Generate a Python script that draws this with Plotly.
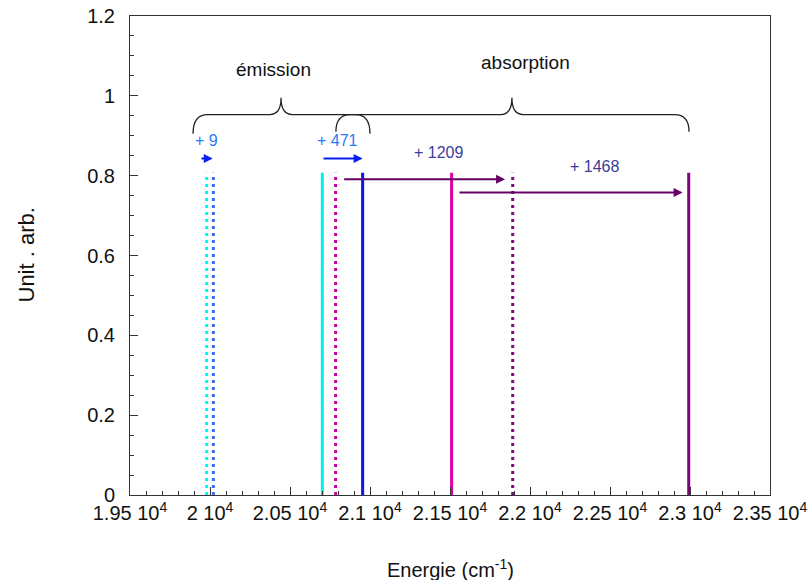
import plotly.graph_objects as go

# ---- data ----
line_x = [19979, 20021, 20702, 20785, 20954, 21510, 21892, 22992]
line_top = [0.807, 0.807, 0.807, 0.807, 0.807, 0.807, 0.807, 0.807]
line_names = ["em1", "em1'", "em2", "abs1'", "em2'", "abs1", "abs2'", "abs2"]

arrow_start = [19937, 20700, 20829, 21550]
arrow_end = [20017, 20954, 21844, 22954]
arrow_y = [0.843, 0.843, 0.791, 0.758]

shift_text = ["+ 9", "+ 471", "+ 1209", "+ 1468"]
shift_x = [19981, 20794, 21425, 22406]
shift_y = [0.889, 0.889, 0.857, 0.824]

brace_names = ["émission", "absorption"]
brace_left = [19894, 20787]
brace_right = [21000, 22994]
brace_tip = [20444, 21887]
brace_end_y = [0.905, 0.91]
brace_mid_y = [0.953, 0.953]
brace_tip_y = [0.995, 0.995]
brace_label_x = [20394, 21969]
brace_label_y = [1.067, 1.083]

x_tickvals = [19500, 20000, 20500, 21000, 21500, 22000, 22500, 23000, 23500]
x_ticktext = ["1.95 10<sup>4</sup>", "2 10<sup>4</sup>", "2.05 10<sup>4</sup>",
              "2.1 10<sup>4</sup>", "2.15 10<sup>4</sup>", "2.2 10<sup>4</sup>",
              "2.25 10<sup>4</sup>", "2.3 10<sup>4</sup>", "2.35 10<sup>4</sup>"]
y_tickvals = [0, 0.2, 0.4, 0.6, 0.8, 1.0, 1.2]
y_ticktext = ["0", "0.2", "0.4", "0.6", "0.8", "1", "1.2"]

# ---- styles ----
line_colors = ["#00f4f4", "#3a6cf4", "#00f0f0", "#cc0099", "#0a14f5", "#dd00aa", "#7a0a7a", "#800080"]
line_dash = ["3px,4px", "3px,4px", "solid", "3px,4px", "solid", "solid", "3px,4px", "solid"]
arrow_colors = ["#0a1ef0", "#0a1ef0", "#660066", "#660066"]
text_colors = ["#2a7cf5", "#2a7cf5", "#3d3d99", "#3d3d99"]
FONT = "Liberation Sans, Arial, sans-serif"

fig = go.Figure()
for x, top, c, d, n in zip(line_x, line_top, line_colors, line_dash, line_names):
    fig.add_trace(go.Scatter(x=[x, x], y=[0, top], mode="lines", name=n,
                             line=dict(color=c, width=3, dash=d), showlegend=False))

annotations = []
for xs, xe, y, c in zip(arrow_start, arrow_end, arrow_y, arrow_colors):
    annotations.append(dict(x=xe, y=y, ax=xs, ay=y, xref="x", yref="y", axref="x", ayref="y",
                            text="", showarrow=True, arrowhead=2, arrowsize=0.9,
                            arrowwidth=2, arrowcolor=c, standoff=0, startstandoff=0))
for t, x, y, c in zip(shift_text, shift_x, shift_y, text_colors):
    annotations.append(dict(x=x, y=y, xref="x", yref="y", text=t, showarrow=False,
                            font=dict(family=FONT, size=16, color=c)))
for t, x, y in zip(brace_names, brace_label_x, brace_label_y):
    annotations.append(dict(x=x, y=y, xref="x", yref="y", text=t, showarrow=False,
                            font=dict(family=FONT, size=19, color="#111")))

shapes = []
we, wt = 90, 70
for x0, x1, xt, ye, ym, yt in zip(brace_left, brace_right, brace_tip, brace_end_y, brace_mid_y, brace_tip_y):
    path = (f"M {x0},{ye} Q {x0},{ym} {x0+we},{ym} L {xt-wt},{ym} "
            f"Q {xt},{ym} {xt},{yt} Q {xt},{ym} {xt+wt},{ym} L {x1-we},{ym} "
            f"Q {x1},{ym} {x1},{ye}")
    shapes.append(dict(type="path", path=path, xref="x", yref="y",
                       line=dict(color="#222", width=1.3)))

annotations.append(dict(x=0.5, y=0, xref="paper", yref="paper", yshift=-73,
                        xanchor="center", yanchor="middle",
                        text="Energie (cm<sup>-1</sup>)", showarrow=False,
                        font=dict(family=FONT, size=20, color="#111")))
annotations.append(dict(x=0, y=0.5, xref="paper", yref="paper", xshift=-104,
                        xanchor="center", yanchor="middle",
                        text="Unit . arb.", textangle=-90, showarrow=False,
                        font=dict(family=FONT, size=22, color="#111")))

axis_common = dict(showgrid=False, zeroline=False, showline=True, linecolor="#333",
                   linewidth=1, mirror=True, ticks="inside", ticklen=8, tickwidth=1,
                   tickcolor="#333", automargin=False, ticklabeloverflow="allow",
                   tickfont=dict(family=FONT, size=20, color="#111"))

fig.update_layout(
    width=808, height=580,
    margin=dict(l=130, r=38, t=16, b=85),
    paper_bgcolor="white", plot_bgcolor="white",
    xaxis=dict(range=[19500, 23500], tickmode="array", tickvals=x_tickvals, ticktext=x_ticktext,
               minor=dict(dtick=100, tick0=19500, ticks="inside", ticklen=4, tickcolor="#333"),
               **axis_common),
    yaxis=dict(range=[0, 1.2], tickmode="array", tickvals=y_tickvals, ticktext=y_ticktext,
               ticklabelstandoff=10,
               minor=dict(dtick=0.05, tick0=0, ticks="inside", ticklen=4, tickcolor="#333"),
               **axis_common),
    annotations=annotations, shapes=shapes,
)

fig.write_html("out.html", config={"displayModeBar": False},
               post_script="document.body.style.margin='0';document.body.style.overflow='hidden';")
